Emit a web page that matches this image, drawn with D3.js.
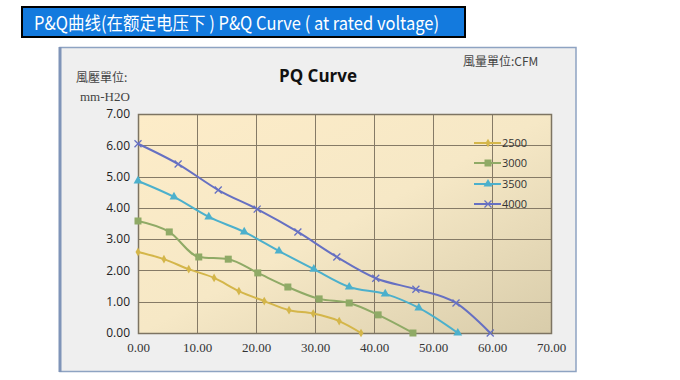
<!DOCTYPE html>
<html><head><meta charset="utf-8">
<script src="https://cdn.jsdelivr.net/npm/d3@7"></script>
<style>html,body{margin:0;padding:0;background:#fff;}svg{display:block;}</style>
</head><body>
<svg id="c" width="680" height="380"></svg>
<script>
const seriesNames = ["2500","3000","3500","4000"];
const x2500 = [0,4.4,8.6,12.9,17.1,21.4,25.6,29.7,34.1,37.8];
const y2500 = [2.59,2.36,2.04,1.76,1.34,1.02,0.73,0.62,0.38,0];
const x3000 = [0,5.3,10.3,15.3,20.3,25.4,30.7,35.8,40.7,46.6];
const y3000 = [3.58,3.23,2.43,2.36,1.92,1.47,1.09,0.96,0.58,0];
const x3500 = [0,6.1,12,18,23.9,29.8,35.8,41.9,47.6,54.2];
const y3500 = [4.86,4.35,3.71,3.23,2.62,2.04,1.47,1.25,0.8,0];
const x4000 = [0,6.8,13.6,20.2,27.1,33.7,40.3,47.1,53.9,59.7];
const y4000 = [6.05,5.4,4.57,3.96,3.23,2.43,1.75,1.4,0.96,0];
const xTicks = [0,10,20,30,40,50,60,70];
const yTicks = [0,1,2,3,4,5,6,7];
const colors = ["#d4b64a","#8faa66","#4cb0cc","#6670c2"];
const markers = ["diamond","square","triangle","cross"];

const series = [
  {name:seriesNames[0], xs:x2500, ys:y2500},
  {name:seriesNames[1], xs:x3000, ys:y3000},
  {name:seriesNames[2], xs:x3500, ys:y3500},
  {name:seriesNames[3], xs:x4000, ys:y4000}
];

const svg = d3.select("#c");
const defs = svg.append("defs");
const g1 = defs.append("linearGradient").attr("id","bg").attr("x1","0").attr("y1","0").attr("x2","1").attr("y2","1");
g1.append("stop").attr("offset","0").attr("stop-color","#fdecc8");
g1.append("stop").attr("offset","0.5").attr("stop-color","#f6e8c6");
g1.append("stop").attr("offset","1").attr("stop-color","#d8ccaa");

// header
svg.append("rect").attr("x",22).attr("y",7).attr("width",443).attr("height",30)
  .attr("fill","#137ade").attr("stroke","#000").attr("stroke-width",2);
const ht = svg.append("text").attr("x",34).attr("y",29.5)
  .attr("fill","#fff").attr("font-family","'Noto Sans CJK SC','Noto Sans',sans-serif")
  .attr("font-size",18.5).text("P&Q曲线(在额定电压下 ) P&Q Curve ( at rated voltage)");
const tl = ht.node().getComputedTextLength();
if (tl > 0 && Math.abs(tl-405) > 3) ht.attr("textLength",405).attr("lengthAdjust","spacingAndGlyphs");

// panel
svg.append("rect").attr("x",60).attr("y",47.5).attr("width",516).attr("height",324)
  .attr("fill","#efefef").attr("stroke","#8ea3c2").attr("stroke-width",1.5);
svg.append("line").attr("x1",60).attr("x2",60).attr("y1",47).attr("y2",372)
  .attr("stroke","#7f94b8").attr("stroke-width",3);

const L=138,R=551,T=114,B=333;
const x = d3.scaleLinear().domain([0,70]).range([L,R]);
const y = d3.scaleLinear().domain([0,7]).range([B,T]);

svg.append("rect").attr("x",L).attr("y",T).attr("width",R-L).attr("height",B-T).attr("fill","url(#bg)");

// grid
const grid = svg.append("g").attr("stroke","#857a66").attr("stroke-width",1);
xTicks.forEach(v=>grid.append("line").attr("x1",Math.round(x(v))+0.5).attr("x2",Math.round(x(v))+0.5).attr("y1",T).attr("y2",B));
yTicks.forEach(v=>grid.append("line").attr("y1",Math.round(y(v))+0.5).attr("y2",Math.round(y(v))+0.5).attr("x1",L).attr("x2",R));
svg.append("rect").attr("x",L+0.5).attr("y",T+0.5).attr("width",R-L).attr("height",B-T)
  .attr("fill","none").attr("stroke","#7d7462").attr("stroke-width",1.5);

// axes labels via d3 axes
const yAxis = d3.axisLeft(y).tickValues(yTicks).tickFormat(d3.format(".2f")).tickSize(0).tickPadding(8);
const ya = svg.append("g").attr("transform",`translate(${L},0)`).call(yAxis);
ya.select(".domain").remove();
ya.selectAll("text").attr("font-family","'Open Sans','Noto Sans',sans-serif").attr("font-size",12).attr("fill","#222");

const xAxis = d3.axisBottom(x).tickValues(xTicks).tickFormat(d3.format(".2f")).tickSize(0).tickPadding(10);
const xa = svg.append("g").attr("transform",`translate(0,${B})`).call(xAxis);
xa.select(".domain").remove();
xa.selectAll("text").attr("font-family","'Liberation Serif',serif").attr("font-size",13).attr("fill","#333");

// titles
svg.append("text").attr("x",318).attr("y",82).attr("text-anchor","middle")
  .attr("font-family","'Open Sans','Noto Sans',sans-serif").attr("font-weight","bold").attr("font-size",17).attr("fill","#111").text("PQ Curve");
svg.append("text").attr("x",76).attr("y",82).attr("font-family","'Noto Sans CJK TC','Liberation Serif',serif")
  .attr("font-size",12).attr("fill","#444").text("風壓單位:");
svg.append("text").attr("x",80).attr("y",101).attr("font-family","'Liberation Serif',serif")
  .attr("font-size",13).attr("fill","#444").text("mm-H2O");
svg.append("text").attr("x",463).attr("y",66).attr("font-family","'Noto Sans CJK TC','Liberation Serif',serif")
  .attr("font-size",12).attr("fill","#444").text("風量單位:CFM");

// lines
const line = d3.line().x(d=>x(d[0])).y(d=>y(d[1])).curve(d3.curveMonotoneX);
function drawMarker(gr, type, cx, cy, col){
  if(type==="diamond") gr.append("path").attr("d",d3.symbol(d3.symbolDiamond,22)()).attr("transform",`translate(${cx},${cy})`).attr("fill",col);
  else if(type==="square") gr.append("rect").attr("x",cx-3.5).attr("y",cy-3.5).attr("width",7).attr("height",7).attr("fill",col);
  else if(type==="triangle") gr.append("path").attr("d",d3.symbol(d3.symbolTriangle,34)()).attr("transform",`translate(${cx},${cy})`).attr("fill",col);
  else gr.append("path").attr("d",`M${cx-3.5},${cy-3.5}L${cx+3.5},${cy+3.5}M${cx-3.5},${cy+3.5}L${cx+3.5},${cy-3.5}`).attr("stroke",col).attr("stroke-width",1.3);
}
series.forEach((s,i)=>{
  const pts = s.xs.map((v,k)=>[v,s.ys[k]]);
  const gr = svg.append("g");
  gr.append("path").attr("d",line(pts)).attr("fill","none").attr("stroke",colors[i]).attr("stroke-width",2);
  pts.forEach(p=>drawMarker(gr,markers[i],x(p[0]),y(p[1]),colors[i]));
});

// legend
const lg = svg.append("g");
const legY = [143,163,184,204];
series.forEach((s,i)=>{
  lg.append("line").attr("x1",474).attr("x2",501).attr("y1",legY[i]).attr("y2",legY[i]).attr("stroke",colors[i]).attr("stroke-width",2);
  drawMarker(lg,markers[i],488,legY[i],colors[i]);
  lg.append("text").attr("x",502).attr("y",legY[i]+4).attr("font-family","'Open Sans','Noto Sans',sans-serif")
    .attr("font-size",11).attr("fill","#333").text(s.name);
});
</script>
</body></html>
